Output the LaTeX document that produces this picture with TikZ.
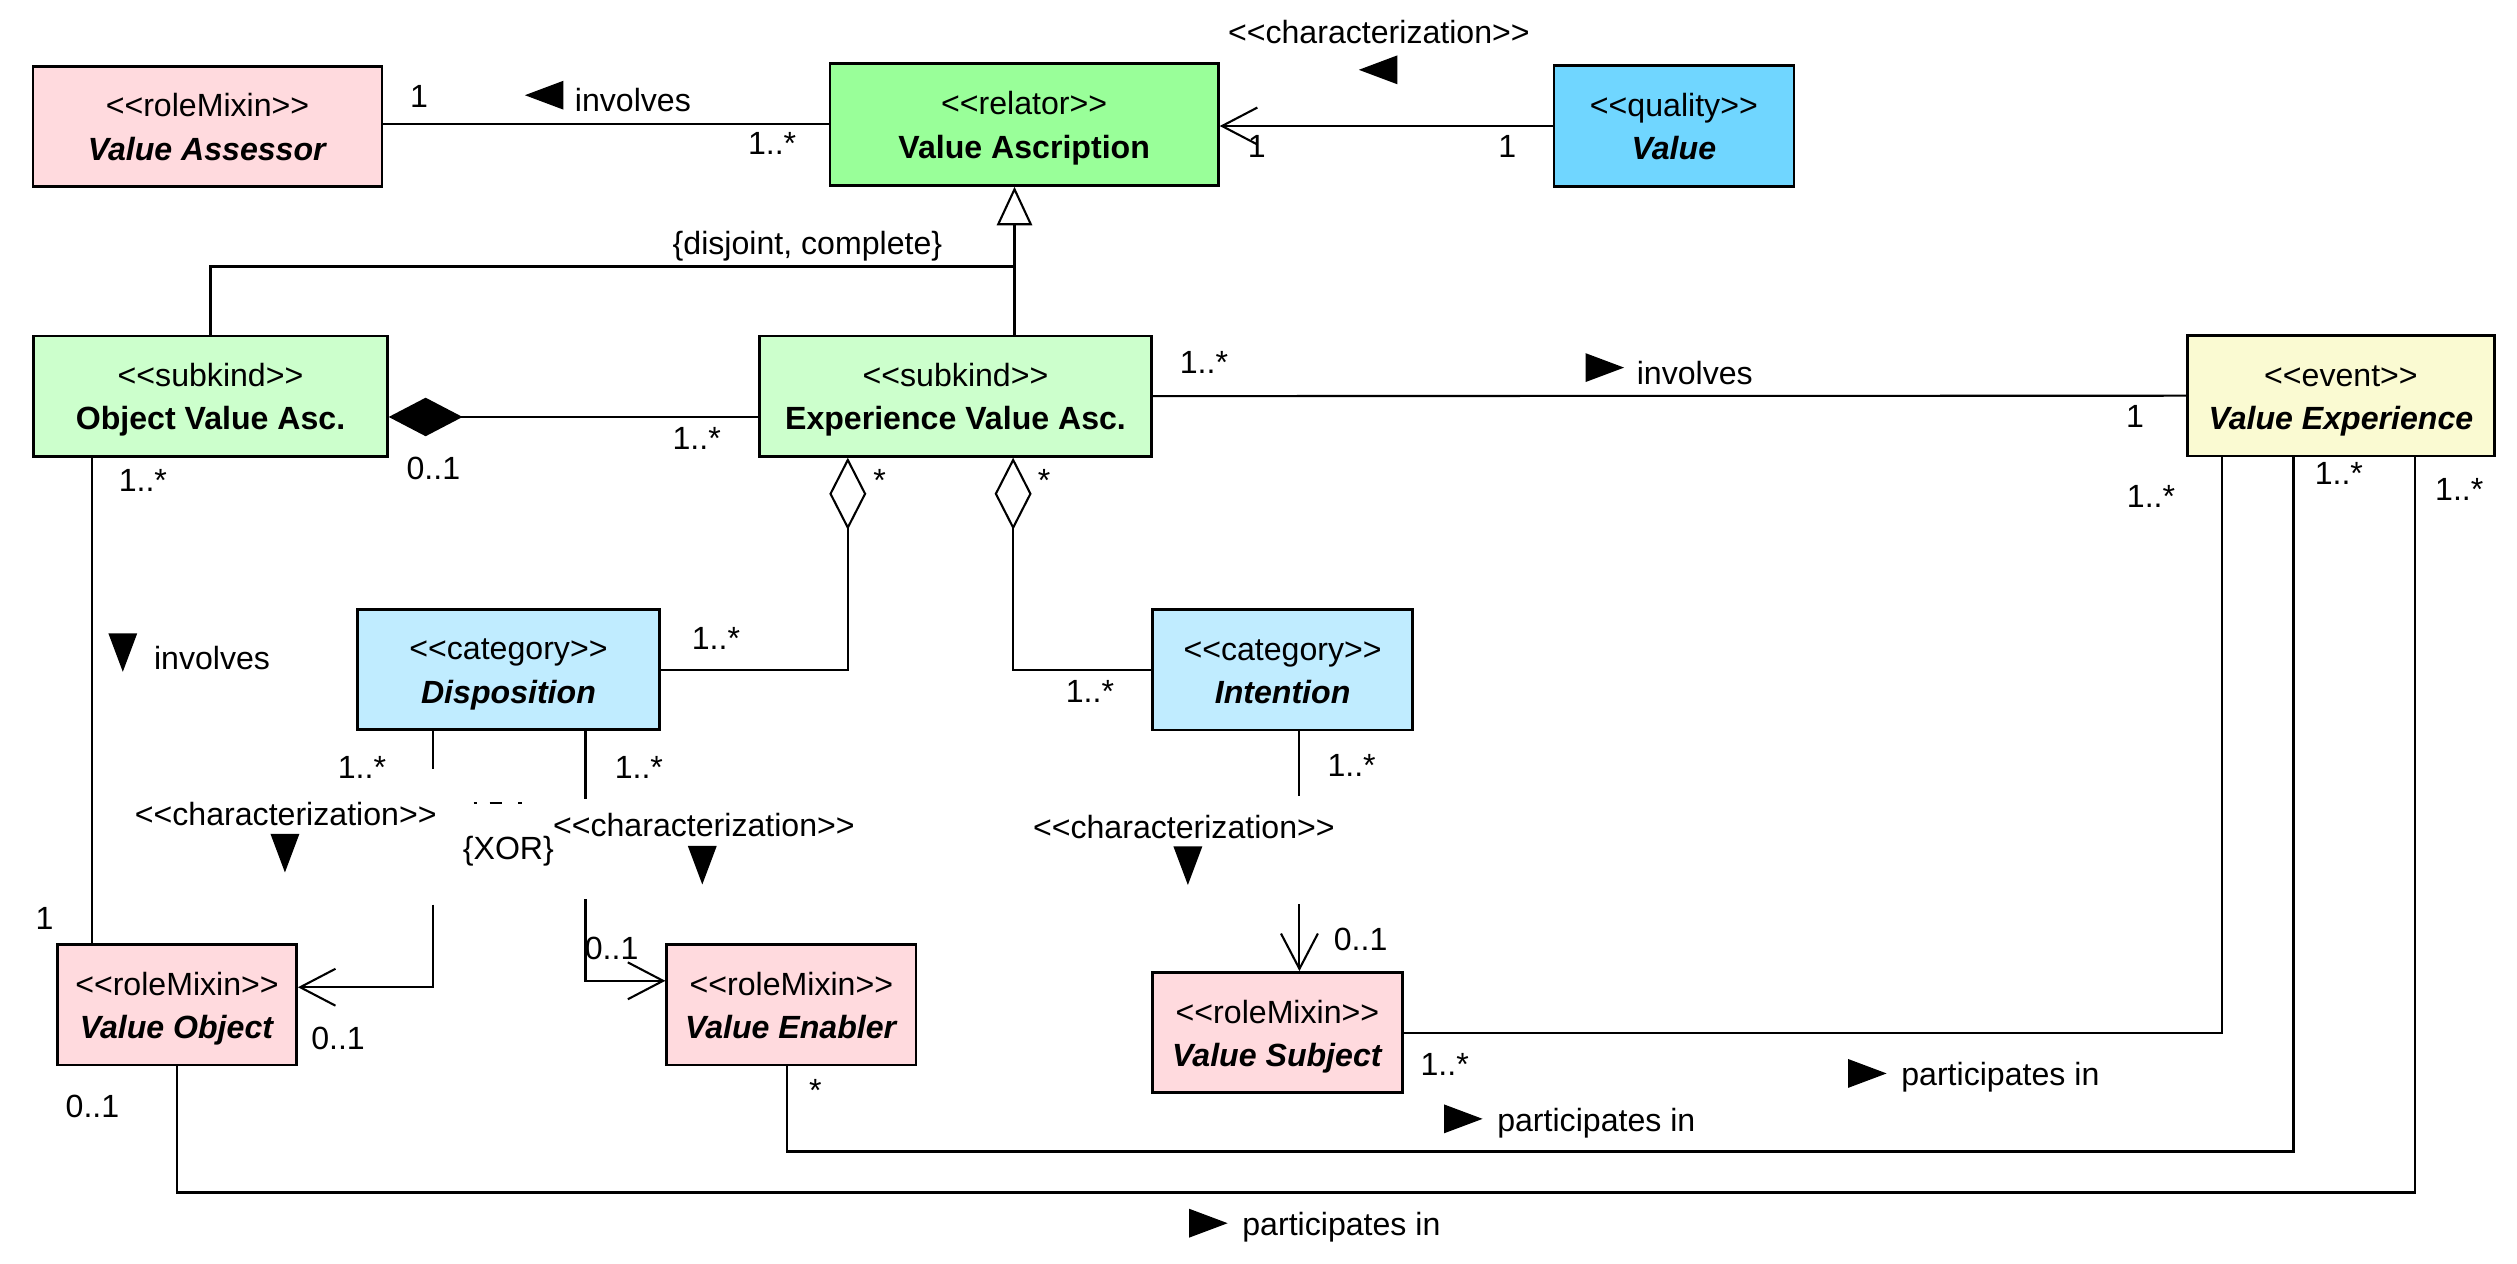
\documentclass[tikz,border=0pt]{standalone}
\usepackage{fontspec}
\setmainfont{Liberation Sans}
\usetikzlibrary{arrows.meta}
\definecolor{rolepink}{RGB}{255,218,222}
\definecolor{relgreen}{RGB}{153,255,153}
\definecolor{subgreen}{RGB}{204,255,204}
\definecolor{qualblue}{RGB}{112,214,255}
\definecolor{catblue}{RGB}{192,236,255}
\definecolor{eventyellow}{RGB}{250,250,210}
\newcommand{\stereo}[1]{<\kern0pt<#1>\kern0pt>}
\newcommand{\cname}[1]{\raisebox{0pt}[\height][0pt]{\textbf{#1}}}

\begin{document}
\begin{tikzpicture}[x=1pt, y=-1pt, line width=1.3pt]
\tikzset{class/.style = {draw, line width=1.7pt, inner sep=0pt, align=center, minimum height=75pt, font=\fontsize{20}{27}\selectfont}}
\tikzset{lbl/.style = {inner sep=0pt, font=\fontsize{20}{24}\selectfont}}
\tikzset{barb/.style = {-{Straight Barb[length=22pt, width=23pt]}}}
\tikzset{rtri/.pic = {\fill (12,0) -- (-12,-9) -- (-12,9) -- cycle;}}
\tikzset{ltri/.pic = {\fill (-12,0) -- (12,-9) -- (12,9) -- cycle;}}
\tikzset{dtri/.pic = {\fill (0,12) -- (-9,-12) -- (9,-12) -- cycle;}}

\useasboundingbox (0,0) rectangle (1568,787.4);

% classes
\node[class, fill=rolepink, minimum width=217.5pt] (assessor) at (129.25,78.75) {\rule{0pt}{15pt}\stereo{roleMixin}\\\cname{\textit{Value Assessor}}};
\node[class, fill=relgreen, minimum width=242pt, minimum height=76pt] (ascr) at (638,77.5) {\rule{0pt}{15pt}\stereo{relator}\\\cname{Value Ascription}};
\node[class, fill=qualblue, minimum width=149.5pt] (value) at (1042.75,78.5) {\rule{0pt}{15pt}\stereo{quality}\\\cname{\textit{Value}}};
\node[class, fill=subgreen, minimum width=220.3pt] (ova) at (131.15,246.75) {\rule{0pt}{15pt}\stereo{subkind}\\\cname{Object Value Asc.}};
\node[class, fill=subgreen, minimum width=244.5pt] (eva) at (595.25,246.75) {\rule{0pt}{15pt}\stereo{subkind}\\\cname{Experience Value Asc.}};
\node[class, fill=eventyellow, minimum width=191.4pt] (vexp) at (1458.3,246.5) {\rule{0pt}{15pt}\stereo{event}\\\cname{\textit{Value Experience}}};
\node[class, fill=catblue, minimum width=188.5pt] (disp) at (316.75,417.1) {\rule{0pt}{15pt}\stereo{category}\\\cname{\textit{Disposition}}};
\node[class, fill=catblue, minimum width=162pt] (intent) at (799,417.25) {\rule{0pt}{15pt}\stereo{category}\\\cname{\textit{Intention}}};
\node[class, fill=rolepink, minimum width=149pt] (vobj) at (110.25,626) {\rule{0pt}{15pt}\stereo{roleMixin}\\\cname{\textit{Value Object}}};
\node[class, fill=rolepink, minimum width=155.3pt] (venab) at (493,626) {\rule{0pt}{15pt}\stereo{roleMixin}\\\cname{\textit{Value Enabler}}};
\node[class, fill=rolepink, minimum width=155.6pt] (vsubj) at (795.8,643.3) {\rule{0pt}{15pt}\stereo{roleMixin}\\\cname{\textit{Value Subject}}};

% relations
\draw (ascr.west) -- (assessor.east |- ascr.west);
\draw[barb] (value.west) -- (value.west -| ascr.east);
\coordinate (genjoin) at (632,166);
\draw[-{Triangle[open, length=24pt, width=22pt]}] (genjoin) -- (genjoin |- ascr.south);
\draw (genjoin |- eva.north) -- (genjoin) -| (ova.north);
\draw[-{Diamond[length=46pt, width=24pt]}] ([yshift=-13pt]eva.west) -- ([yshift=-13pt]ova.east);
\draw (eva.east) -- (vexp.west);
\draw[-{Diamond[open, length=45pt, width=23pt]}] (disp.east) -| ([xshift=56pt]eva.south west);
\draw[-{Diamond[open, length=45pt, width=23pt]}] (intent.west) -| ([xshift=159pt]eva.south west);
\draw ([xshift=37pt]ova.south west) -- ([xshift=37pt]ova.south west |- vobj.north);
\draw[barb, dash pattern=on 23.4pt off 84.7pt on 800pt] ([xshift=-47pt]disp.south) |- ([yshift=11pt]vobj.east);
\draw[barb, dash pattern=on 42pt off 62.7pt on 800pt] ([xshift=48pt]disp.south) |- ([yshift=15pt]venab.west);
\draw[barb, dash pattern=on 40pt off 67.7pt on 800pt] ([xshift=10.5pt]intent.south) -- ([xshift=10.5pt]intent.south |- vsubj.north);
\draw (vsubj.east) -| ([xshift=22.4pt]vexp.south west);
\draw ([xshift=-3pt]venab.south) -- ++(0,53) -| ([xshift=67pt]vexp.south west);
\draw (vobj.south) -- ++(0,78.5) -| ([xshift=142.5pt]vexp.south west);
\coordinate (xorl) at (295,500.5);
\coordinate (xorr) at (325,500.5);
\draw[dash pattern=on 2pt off 8pt on 8pt off 10pt on 2pt] (xorl) -- (xorr);

% labels
\node[lbl] (charTop) at (859,19.7) {\stereo{characterization}};
\pic at (858.5,43.5) {ltri};
\node[lbl] (mVal1) at (783,91) {1};
\node[lbl] (mVal2) at (939,91) {1};
\node[lbl] (mAss1) at (261,60) {1};
\pic at (339,59.3) {ltri};
\node[lbl, anchor=west] (invTop) at (357.5,62) {involves};
\node[lbl] (mAss2) at (481,89.5) {1..*};
\node[lbl] (genset) at (503,153.5) {\{disjoint, complete\}};
\node[lbl] (mEva1) at (750,226) {1..*};
\pic at (999.75,229) {rtri};
\node[lbl, anchor=west] (invRight) at (1019,232.6) {involves};
\node[lbl] (mVexp1) at (1330,259.6) {1};
\node[lbl] (mVexp2) at (1340,309) {1..*};
\node[lbl] (mVexp3) at (1457,295) {1..*};
\node[lbl] (mVexp4) at (1532,305) {1..*};
\node[lbl] (mOva1) at (89,299) {1..*};
\node[lbl] (mComp1) at (270,292) {0..1};
\node[lbl] (mComp2) at (434,273) {1..*};
\node[lbl] (mAgg1) at (548,299) {*};
\node[lbl] (mAgg2) at (650.5,299) {*};
\pic at (76.5,406.5) {dtri};
\node[lbl, anchor=west] (invLeft) at (95.3,410) {involves};
\node[lbl] (mDisp1) at (446,398) {1..*};
\node[lbl] (mInt1) at (679,430.6) {1..*};
\node[lbl] (mDisp2) at (225.5,478) {1..*};
\node[lbl] (mDisp3) at (398,478) {1..*};
\node[lbl] (charL) at (178,507) {\stereo{characterization}};
\pic at (177.5,531.5) {dtri};
\node[lbl] (xor) at (316.7,530) {\{XOR\}};
\node[lbl] (charR) at (438.5,514) {\stereo{characterization}};
\pic at (437.5,539) {dtri};
\node[lbl] (mInt2) at (842,477) {1..*};
\node[lbl] (charI) at (737.5,515) {\stereo{characterization}};
\pic at (740,539.3) {dtri};
\node[lbl] (mSub1) at (847.6,585) {0..1};
\node[lbl] (mVobj1) at (27.8,572) {1};
\node[lbl] (mVobj2) at (210.6,647) {0..1};
\node[lbl] (mEnab1) at (381,591) {0..1};
\node[lbl] (mVobj3) at (57.6,689) {0..1};
\node[lbl] (mEnab2) at (508,679) {*};
\node[lbl] (mSub2) at (900,663.4) {1..*};

\foreach \x/\y/\n in {1163.3/668.7/a, 911.6/697/b, 752.8/762/c}
{\pic at (\x,\y) {rtri};
 \node[lbl, anchor=west] (part\n) at (\x+20.5,\y+2.5) {participates in};}

\end{tikzpicture}
\end{document}
